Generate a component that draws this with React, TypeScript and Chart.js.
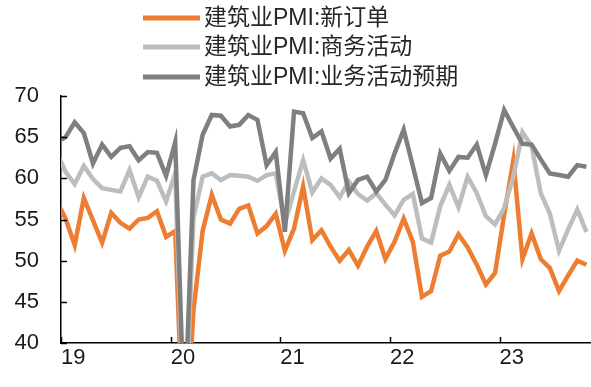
import React, { useEffect, useRef } from "react";
import { Chart, registerables } from "chart.js";

Chart.register(...registerables);

// Months: Dec 2018 .. Oct 2023 (x index: Dec 2018 = -1, Jan 2019 = 0)
const months: string[] = [
  "2018-12",
  "2019-01", "2019-02", "2019-03", "2019-04", "2019-05", "2019-06", "2019-07", "2019-08", "2019-09", "2019-10", "2019-11", "2019-12",
  "2020-01", "2020-02", "2020-03", "2020-04", "2020-05", "2020-06", "2020-07", "2020-08", "2020-09", "2020-10", "2020-11", "2020-12",
  "2021-01", "2021-02", "2021-03", "2021-04", "2021-05", "2021-06", "2021-07", "2021-08", "2021-09", "2021-10", "2021-11", "2021-12",
  "2022-01", "2022-02", "2022-03", "2022-04", "2022-05", "2022-06", "2022-07", "2022-08", "2022-09", "2022-10", "2022-11", "2022-12",
  "2023-01", "2023-02", "2023-03", "2023-04", "2023-05", "2023-06", "2023-07", "2023-08", "2023-09", "2023-10",
];

const seriesNames: string[] = ["建筑业PMI:新订单", "建筑业PMI:商务活动", "建筑业PMI:业务活动预期"];

const newOrders: number[] = [
  57.3,
  55.1, 51.9, 57.6, 54.9, 52.2, 55.8, 54.6, 53.9, 55.0, 55.2, 56.0, 52.9,
  53.6, 25.0, 44.0, 53.6, 58.0, 55.0, 54.5, 56.3, 56.7, 53.3, 54.2, 55.7,
  51.2, 53.9, 59.0, 52.5, 53.7, 51.7, 50.0, 51.3, 49.4, 51.7, 53.6, 50.2,
  52.3, 55.1, 52.3, 45.6, 46.3, 50.6, 51.1, 53.2, 51.6, 49.5, 47.1, 48.5,
  55.6, 62.2, 50.2, 53.3, 50.2, 49.1, 46.3, 48.2, 50.0, 49.5,
];

const businessActivity: number[] = [
  63.2,
  60.8, 59.3, 61.5, 59.9, 58.8, 58.6, 58.4, 61.0, 57.7, 60.2, 59.7, 57.2,
  60.6, 27.0, 55.2, 60.2, 60.6, 59.8, 60.4, 60.3, 60.2, 59.7, 60.4, 60.6,
  54.5, 58.4, 62.2, 58.3, 60.0, 59.2, 57.7, 59.6, 58.1, 57.3, 58.2, 56.8,
  55.5, 57.4, 58.1, 52.7, 52.2, 56.6, 59.2, 56.5, 60.2, 58.2, 55.4, 54.4,
  56.4, 60.2, 65.6, 63.9, 58.2, 55.7, 51.2, 53.8, 56.2, 53.5,
];

const expectations: number[] = [
  64.4,
  65.0, 66.8, 65.5, 61.8, 64.1, 62.6, 63.7, 63.9, 62.2, 63.2, 63.1, 60.3,
  64.4, 30.0, 59.8, 65.3, 67.7, 67.6, 66.3, 66.5, 67.7, 67.1, 61.6, 63.2,
  53.5, 68.1, 67.9, 64.9, 65.7, 62.4, 63.6, 58.2, 59.8, 60.2, 58.4, 59.8,
  63.0, 65.9, 61.5, 57.0, 57.6, 63.0, 60.9, 62.6, 62.5, 64.1, 60.4, 64.2,
  68.3, 66.2, 64.2, 64.1, 62.3, 60.6, 60.4, 60.2, 61.6, 61.4,
];

// Year tick labels, placed at the year boundaries
const yearLabels: string[] = ["19", "20", "21", "22", "23"];
const yearTickValues: number[] = [-0.5, 11.5, 23.5, 35.5, 47.5];

const FONT = "'Liberation Sans', Arial, 'Noto Sans CJK SC', sans-serif";
const COLORS = ["#ED7D31", "#BDBDBD", "#7F7F7F"];

const toPoints = (vals: number[]) => vals.map((v, i) => ({ x: i - 1, y: v }));

const innerTicks = {
  id: "innerTicks",
  afterDraw(chart: any) {
    const { ctx, chartArea, scales } = chart;
    ctx.save();
    ctx.strokeStyle = "#000";
    ctx.lineWidth = 1.5;
    scales.y.ticks.forEach((t: any) => {
      const y = Math.round(scales.y.getPixelForValue(t.value)) + 0.5;
      ctx.beginPath();
      ctx.moveTo(chartArea.left, y);
      ctx.lineTo(chartArea.left + 6, y);
      ctx.stroke();
    });
    scales.x.ticks.forEach((t: any) => {
      const x = Math.round(scales.x.getPixelForValue(t.value)) + 0.5;
      ctx.beginPath();
      ctx.moveTo(x, chartArea.bottom);
      ctx.lineTo(x, chartArea.bottom - 6);
      ctx.stroke();
    });
    ctx.restore();
  },
};

const topLegend = {
  id: "topLegend",
  afterDraw(chart: any) {
    const { ctx } = chart;
    const rows = [18, 47, 77];
    ctx.save();
    ctx.font = `23px ${FONT}`;
    ctx.textBaseline = "middle";
    ctx.textAlign = "left";
    chart.data.datasets.forEach((ds: any, i: number) => {
      const y = rows[i];
      ctx.strokeStyle = ds.borderColor;
      ctx.lineWidth = 5;
      ctx.beginPath();
      ctx.moveTo(143, y);
      ctx.lineTo(200, y);
      ctx.stroke();
      ctx.fillStyle = "#262626";
      ctx.fillText(ds.label, 204, y + 1);
    });
    ctx.restore();
  },
};

export default function App() {
  const ref = useRef<HTMLCanvasElement>(null);

  useEffect(() => {
    if (!ref.current) return;
    const chart = new Chart(ref.current, {
      type: "line",
      data: {
        datasets: [
          { label: seriesNames[0], data: toPoints(newOrders), borderColor: COLORS[0], order: 2 },
          { label: seriesNames[1], data: toPoints(businessActivity), borderColor: COLORS[1], order: 1 },
          { label: seriesNames[2], data: toPoints(expectations), borderColor: COLORS[2], order: 0 },
        ].map((d) => ({
          ...d,
          borderWidth: 4.5,
          pointRadius: 0,
          tension: 0,
          fill: false,
          clip: 0,
        })),
      },
      options: {
        animation: false,
        responsive: false,
        maintainAspectRatio: false,
        layout: { padding: { top: 96, left: 0, right: 0, bottom: 0 } },
        plugins: { legend: { display: false }, tooltip: { enabled: false } },
        scales: {
          x: {
            type: "linear",
            min: -0.5,
            max: 57.5,
            grid: { display: false, drawTicks: false },
            border: { display: true, color: "#000", width: 1.5 },
            afterBuildTicks: (axis: any) => {
              axis.ticks = yearTickValues.map((v) => ({ value: v }));
            },
            afterFit: (s: any) => {
              s.height = 44;
            },
            ticks: {
              autoSkip: false,
              maxRotation: 0,
              align: "start",
              padding: 2,
              color: "#1a1a1a",
              font: { size: 22, family: FONT },
              callback: (_v: any, i: number) => yearLabels[i] ?? "",
            },
          },
          y: {
            type: "linear",
            min: 40,
            max: 70,
            grid: { display: false, drawTicks: false },
            border: { display: true, color: "#000", width: 1.5 },
            afterFit: (s: any) => {
              s.width = 61;
            },
            ticks: {
              stepSize: 5,
              padding: 22,
              color: "#1a1a1a",
              font: { size: 22, family: FONT },
            },
          },
        },
      },
      plugins: [innerTicks, topLegend],
    });
    return () => chart.destroy();
  }, []);

  return (
    <div style={{ position: "fixed", left: 0, top: 0, width: 591, height: 387, background: "#fff" }}>
      <canvas ref={ref} width={591} height={387} style={{ display: "block", width: 591, height: 387 }} />
    </div>
  );
}
